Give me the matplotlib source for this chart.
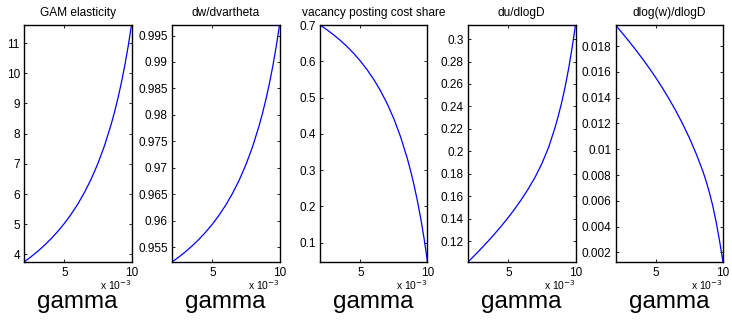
import matplotlib
matplotlib.use("Agg")
import matplotlib.pyplot as plt
from matplotlib.ticker import FixedLocator, FuncFormatter

plt.rcParams['font.family'] = ['Liberation Sans', 'DejaVu Sans']

# gamma grid (actual units)
gamma = [0.002, 0.0025, 0.003, 0.0035, 0.004, 0.0045, 0.005, 0.0055, 0.006,
         0.0065, 0.007, 0.0075, 0.008, 0.0085, 0.00875, 0.009, 0.00925,
         0.0095, 0.00975, 0.010]

gam_elasticity = [3.748, 3.913, 4.094, 4.293, 4.512, 4.753, 5.023, 5.325, 5.665,
                  6.052, 6.496, 7.009, 7.612, 8.327, 8.738, 9.191, 9.694,
                  10.255, 10.885, 11.597]
dw_dvartheta = [0.95220, 0.95312, 0.95413, 0.95525, 0.95647, 0.95783, 0.95934, 0.96104, 0.96296,
                0.96515, 0.96766, 0.97058, 0.97401, 0.97810, 0.98045, 0.98305, 0.98595,
                0.98919, 0.99285, 0.99699]
vacancy_share = [0.7000, 0.6873, 0.6733, 0.6580, 0.6410, 0.6221, 0.6009, 0.5771, 0.5500,
                 0.5190, 0.4832, 0.4413, 0.3916, 0.3319, 0.2971, 0.2585, 0.2152,
                 0.1663, 0.1107, 0.0470]
du_dlogD = [0.1015, 0.1075, 0.1137, 0.1201, 0.1268, 0.1338, 0.1412, 0.1491, 0.1576,
            0.1669, 0.1772, 0.1891, 0.2036, 0.2220, 0.2330, 0.2450, 0.2587,
            0.2745, 0.2925, 0.3125]
dlogw_dlogD = [0.01964, 0.01902, 0.01838, 0.01772, 0.01703, 0.01631, 0.01555, 0.01474, 0.01388,
               0.01296, 0.01196, 0.01087, 0.00966, 0.00830, 0.00750, 0.00660, 0.00555,
               0.00430, 0.00285, 0.00125]

titles = ["GAM elasticity", "dw/dvartheta", "vacancy posting cost share",
          "du/dlogD", "dlog(w)/dlogD"]
series = [gam_elasticity, dw_dvartheta, vacancy_share, du_dlogD, dlogw_dlogD]

yticks = [
    [4, 5, 6, 7, 8, 9, 10, 11],
    [0.955, 0.96, 0.965, 0.97, 0.975, 0.98, 0.985, 0.99, 0.995],
    [0.1, 0.2, 0.3, 0.4, 0.5, 0.6, 0.7],
    [0.12, 0.14, 0.16, 0.18, 0.2, 0.22, 0.24, 0.26, 0.28, 0.3],
    [0.002, 0.004, 0.006, 0.008, 0.01, 0.012, 0.014, 0.016, 0.018],
]
xticks = [0.005, 0.010]
xlabel = "gamma"

W, H = 732, 321
fig = plt.figure(figsize=(W / 100, H / 100), dpi=100)

lefts_px = [24, 172, 320, 468, 615.5]
width_px = 107.5
top_px, bottom_px = 25, 262

for i in range(5):
    ax = fig.add_axes([lefts_px[i] / W, 1 - bottom_px / H,
                       width_px / W, (bottom_px - top_px) / H])
    ax.plot(gamma, series[i], color=(0, 0, 1), linewidth=0.9)
    ax.set_xlim(min(gamma), max(gamma))
    ax.set_ylim(min(series[i]), max(series[i]))
    ax.xaxis.set_major_locator(FixedLocator(xticks))
    ax.xaxis.set_major_formatter(FuncFormatter(lambda v, p: "%g" % round(v * 1000, 6)))
    ax.yaxis.set_major_locator(FixedLocator(yticks[i]))
    ax.yaxis.set_major_formatter(FuncFormatter(lambda v, p: "%g" % round(v, 6)))
    ax.tick_params(direction='in', length=2.5, width=0.6, labelsize=8.5,
                   top=True, right=True, pad=3, colors='black')
    ax.tick_params(axis='x', pad=3.5)
    for s in ax.spines.values():
        s.set_linewidth(1.0)
        s.set_color('black')
    ax.set_title(titles[i], fontsize=8.6, pad=6.5)
    ax.text(1.0, -0.12, r"x 10$^{-3}$", transform=ax.transAxes,
            ha='right', va='baseline', fontsize=7.5)
    ax.text(0.5, -0.195, xlabel, transform=ax.transAxes,
            ha='center', va='baseline', fontsize=17.5)

fig.savefig("out.png", dpi=100)
